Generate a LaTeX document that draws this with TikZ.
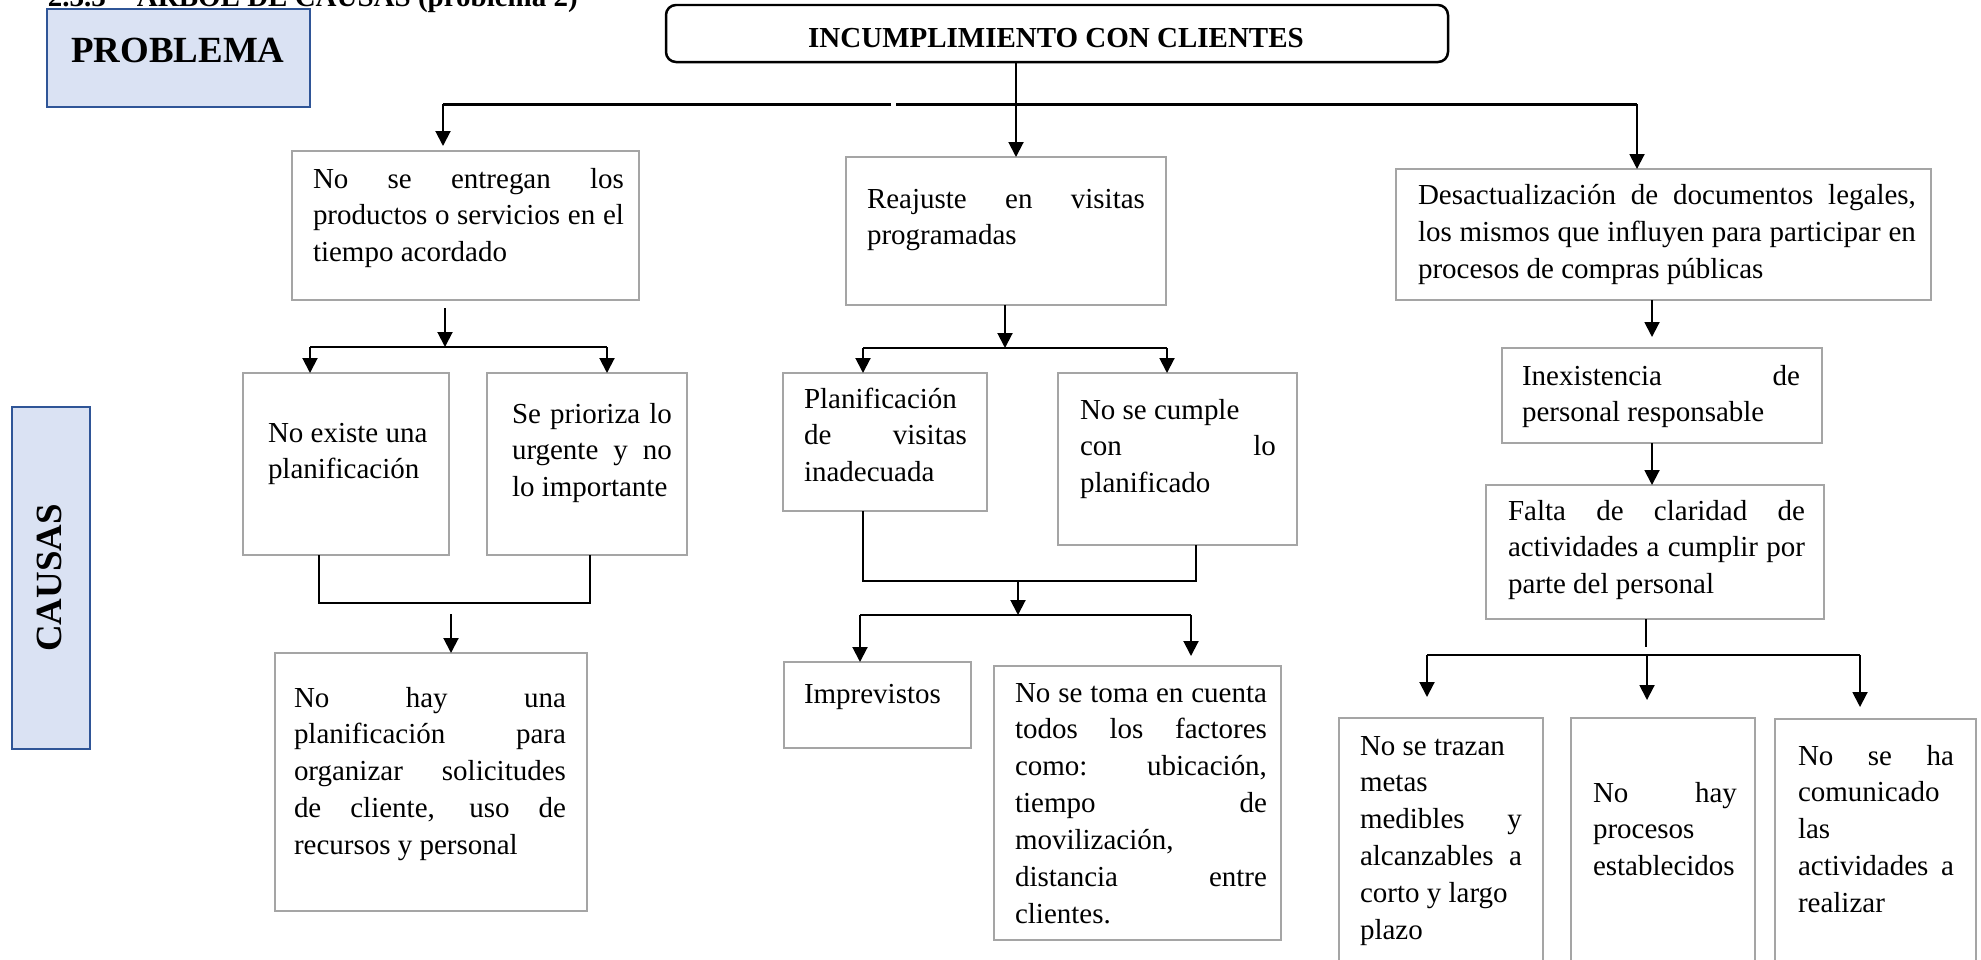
\documentclass[tikz,border=0pt]{standalone}
\usepackage{fontspec}
\setmainfont{Liberation Serif}
\usetikzlibrary{arrows.meta,fit}

\definecolor{boxgray}{RGB}{165,165,165}
\definecolor{tagfill}{RGB}{218,226,243}
\definecolor{tagedge}{RGB}{47,85,151}

\tolerance=10000
\hbadness=10000

\tikzset{
  gbox/.style={draw=boxgray, line width=0.05cm, inner sep=0pt, outer sep=0pt},
  tagbox/.style={draw=tagedge, fill=tagfill, line width=0.04cm, inner sep=0pt, outer sep=0pt},
  titlebox/.style={draw=black, line width=0.05cm, rounded corners=0.2cm, inner sep=0pt, outer sep=0pt},
  bodytext/.style={font=\fontsize{16.5}{21}\selectfont, inner sep=0pt, outer sep=0pt,
    anchor=north west, align=justify, execute at begin node={\rule{0pt}{14pt}}},
  boldtext/.style={font=\fontsize{16.5}{21}\selectfont\bfseries, inner sep=0pt, outer sep=0pt},
  tagtext/.style={font=\fontsize{21}{25}\selectfont\bfseries, inner sep=0pt, outer sep=0pt},
  arr/.style={line width=0.04cm, -{Triangle[length=0.3cm,width=0.3cm]}},
  barline/.style={line width=0.06cm},
  link/.style={line width=0.05cm},
  joinline/.style={line width=0.03cm},
}

\begin{document}
\begin{tikzpicture}[x=0.02cm, y=-0.02cm]
\useasboundingbox (0,0) rectangle (1981,960);

% heading (runs off the top edge)
\node[boldtext, anchor=base west] (heading) at (48,6.5) {2.3.3\hspace{0.62cm}ÁRBOL DE CAUSAS (problema 2)};

% side tags
\node[tagbox, fit={(47,9) (310,107)}] (prob) {};
\node[tagtext, anchor=base] (probtext) at (178,62) {PROBLEMA};
\node[tagbox, fit={(12,407) (90,749)}] (caus) {};
\node[tagtext, rotate=90] (caustext) at (49,578) {CAUSAS};

% main problem
\node[titlebox, fit={(666,5) (1448,62)}] (title) {};
\node[boldtext, anchor=base] (titletext) at (1056,47) {INCUMPLIMIENTO CON CLIENTES};

% left branch
\node[gbox, fit={(292,151) (639,300)}] (a1) {};
\node[bodytext, text width=6.22cm] (a1t) at (313,163.4)
  {No se entregan los\linebreak productos o servicios en el\linebreak tiempo acordado};
\node[gbox, fit={(243,373) (449,555)}] (a2) {};
\node[bodytext, text width=4cm] (a2t) at (268,417.4) {No existe una\\planificación};
\node[gbox, fit={(487,373) (687,555)}] (a3) {};
\node[bodytext, text width=3.2cm] (a3t) at (512,398.4)
  {Se prioriza lo\linebreak urgente y no\linebreak lo importante};
\node[gbox, fit={(275,653) (587,911)}] (a4) {};
\node[bodytext, text width=5.44cm] (a4t) at (294,682.4)
  {No hay una\linebreak planificación para\linebreak organizar solicitudes\linebreak de cliente, uso de\linebreak recursos y personal};

% middle branch
\node[gbox, fit={(846,157) (1166,305)}] (b1) {};
\node[bodytext, text width=5.56cm] (b1t) at (867,183.4) {Reajuste en visitas\linebreak programadas};
\node[gbox, fit={(783,373) (987,511)}] (b2) {};
\node[bodytext, text width=3.26cm] (b2t) at (804,383.4) {Planificación\linebreak de visitas\linebreak inadecuada};
\node[gbox, fit={(1058,373) (1297,545)}] (b3) {};
\node[bodytext, text width=3.92cm] (b3t) at (1080,394.4) {No se cumple\\con lo\linebreak planificado};
\node[gbox, fit={(784,662) (971,748)}] (b4) {};
\node[bodytext, text width=3.5cm] (b4t) at (804,678.4) {Imprevistos};
\node[gbox, fit={(994,666) (1281,940)}] (b5) {};
\node[bodytext, text width=5.04cm] (b5t) at (1015,677.4)
  {No se toma en cuenta\linebreak todos los factores\linebreak como: ubicación,\linebreak tiempo de\linebreak movilización,\\distancia entre\linebreak clientes.};

% right branch
\node[gbox, fit={(1396,169) (1931,300)}] (c1) {};
\node[bodytext, text width=9.96cm] (c1t) at (1418,180.4)
  {Desactualización de documentos legales,\linebreak los mismos que influyen para participar en\linebreak procesos de compras públicas};
\node[gbox, fit={(1502,348) (1822,443)}] (c2) {};
\node[bodytext, text width=5.56cm] (c2t) at (1522,360.4) {Inexistencia de\linebreak personal responsable};
\node[gbox, fit={(1486,485) (1824,619)}] (c3) {};
\node[bodytext, text width=5.94cm] (c3t) at (1508,495.4)
  {Falta de claridad de\linebreak actividades a cumplir por\linebreak parte del personal};
\node[gbox, fit={(1339,718) (1543,985)}] (c4) {};
\node[bodytext, text width=3.24cm] (c4t) at (1360,730.4)
  {No se trazan\\metas\\medibles y\linebreak alcanzables a\linebreak corto y largo\\plazo};
\node[gbox, fit={(1571,718) (1755,985)}] (c5) {};
\node[bodytext, text width=2.88cm] (c5t) at (1593,777.4) {No hay\linebreak procesos\\establecidos};
\node[gbox, fit={(1775,719) (1976,985)}] (c6) {};
\node[bodytext, text width=3.12cm] (c6t) at (1798,740.4)
  {No se ha\linebreak comunicado\\las\\actividades a\linebreak realizar};

% top distribution bar
\coordinate (barL) at (443,104);
\coordinate (gapL) at (891,104);
\coordinate (gapR) at (896,104);
\coordinate (barR) at (1637,104);
\coordinate (midX) at (1016,0);
\draw[barline] (gapL) -- (barL);
\draw[barline] (gapR) -- (barR);
\draw[arr, shorten >=0.1cm] (barL) -- (a1.north -| barL);
\draw[arr] (title.south -| midX) -- (b1.north -| midX);
\draw[arr] (barR) -- (c1.north -| barR);

% left branch connectors
\coordinate (aFork) at (445,347);
\coordinate (aL) at (310,347);
\coordinate (aR) at (607,347);
\draw[arr, shorten <=0.16cm] (a1.south -| aFork) -- (aFork);
\draw[link] (aL) -- (aR);
\draw[arr] (aL) -- (a2.north -| aL);
\draw[arr] (aR) -- (a3.north -| aR);
\coordinate (aJl) at (319,603);
\coordinate (aJr) at (590,603);
\draw[link] (a2.south -| aJl) -- (aJl) -- (aJr) -- (a3.south -| aJr);
\coordinate (aDown) at (451,614);
\draw[arr] (aDown) -- (a4.north -| aDown);

% middle branch connectors
\coordinate (bFork) at (1005,348);
\coordinate (bL) at (863,348);
\coordinate (bR) at (1167,348);
\draw[arr] (b1.south -| bFork) -- (bFork);
\draw[link] (bL) -- (bR);
\draw[arr] (bL) -- (b2.north -| bL);
\draw[arr] (bR) -- (b3.north -| bR);
\coordinate (bJl) at (863,581);
\coordinate (bJr) at (1196,581);
\draw[joinline] (b2.south -| bJl) -- (bJl) -- (bJr) -- (b3.south -| bJr);
\coordinate (bMid) at (1018,581);
\coordinate (bFork2) at (1018,615);
\draw[arr] (bMid) -- (bFork2);
\coordinate (bL2) at (860,615);
\coordinate (bR2) at (1191,615);
\draw[link] (bL2) -- (bR2);
\draw[arr] (bL2) -- (b4.north -| bL2);
\draw[arr, shorten >=0.2cm] (bR2) -- (b5.north -| bR2);

% right branch connectors
\coordinate (cX) at (1652,0);
\draw[arr, shorten >=0.22cm] (c1.south -| cX) -- (c2.north -| cX);
\draw[arr] (c2.south -| cX) -- (c3.north -| cX);
\coordinate (cStem) at (1646,647);
\draw[joinline] (c3.south -| cStem) -- (cStem);
\coordinate (cL) at (1427,655);
\coordinate (cM) at (1647,655);
\coordinate (cR) at (1860,655);
\draw[link] (cL) -- (cR);
\draw[arr, shorten >=0.42cm] (cL) -- (c4.north -| cL);
\draw[arr, shorten >=0.36cm] (cM) -- (c5.north -| cM);
\draw[arr, shorten >=0.24cm] (cR) -- (c6.north -| cR);
\end{tikzpicture}
\end{document}
